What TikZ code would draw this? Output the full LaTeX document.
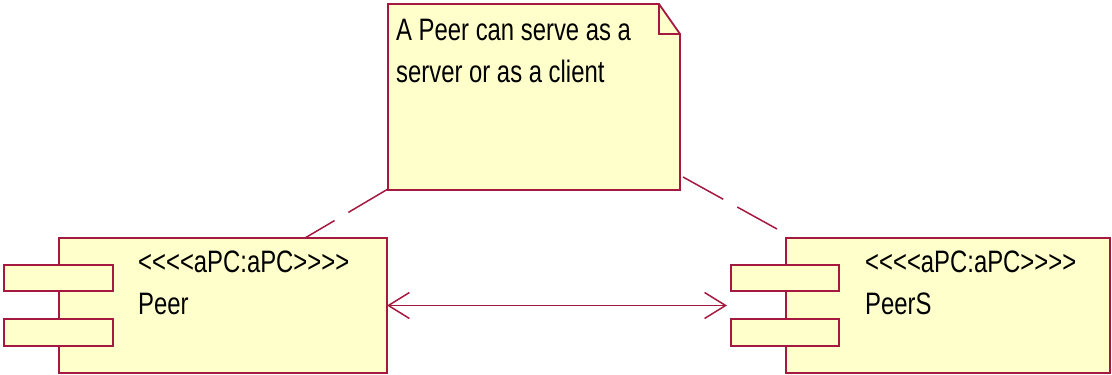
\documentclass[tikz,border=0pt]{standalone}
\usepackage{fontspec}
\newfontfamily\umlfont[FakeStretch=0.77]{Liberation Sans}
\usetikzlibrary{arrows.meta}
\definecolor{umlline}{RGB}{165,25,65}
\definecolor{umlfill}{RGB}{255,255,204}
\tikzset{
  box/.style={draw=umlline, fill=umlfill, line width=1.8pt, inner sep=0pt, outer sep=0pt},
  lbl/.style={anchor=base west, inner sep=0pt, font=\umlfont\fontsize{31}{42}\selectfont, text=black},
  conn/.style={draw=umlline, line width=1.6pt},
  notelink/.style={draw=umlline, line width=1.5pt, dash pattern=on 46pt off 16pt},
  barb/.tip={Straight Barb[length=21pt, width=26pt, line width=1.5pt]}
}
\begin{document}
\begin{tikzpicture}[x=1pt,y=-1pt]
\useasboundingbox (0,0) rectangle (1112,375);
% note
\path[box] (388,4) -- (659,4) -- (680,34) -- (680,190) -- (388,190) -- cycle;
\draw[umlline, line width=1.3pt] (659,4) -- (659,34) -- (680,34);
\node[lbl] (n1) at (396,40) {A Peer can serve as a};
\node[lbl] (n2) at (396,82) {server or as a client};
% Peer component
\node[box, minimum width=328pt, minimum height=135pt, anchor=north west] (peer) at (59,238) {};
\node[box, minimum width=109pt, minimum height=26pt, anchor=north west] (p1) at (4,265) {};
\node[box, minimum width=109pt, minimum height=27pt, anchor=north west] (p2) at (4,319) {};
\node[lbl] (pt1) at (138,272) {<<<<aPC:aPC>>>>};
\node[lbl] (pt2) at (138,314) {Peer};
% PeerS component
\node[box, minimum width=324pt, minimum height=135pt, anchor=north west] (peers) at (786,238) {};
\node[box, minimum width=108pt, minimum height=26pt, anchor=north west] (s1) at (731,265) {};
\node[box, minimum width=108pt, minimum height=27pt, anchor=north west] (s2) at (731,319) {};
\node[lbl] (st1) at (865,272) {<<<<aPC:aPC>>>>};
\node[lbl] (st2) at (865,314) {PeerS};
% association
\coordinate (al) at (387,305.5);
\coordinate (ar) at (727,305.5);
\draw[conn, barb-barb] (al) -- (ar);
% note links
\coordinate (nl1) at (388,189);
\coordinate (nl2) at (305,238);
\coordinate (nr1) at (683,177);
\coordinate (nr2) at (777,229);
\draw[notelink] (nl1) -- (nl2);
\draw[notelink] (nr1) -- (nr2);
\end{tikzpicture}
\end{document}
